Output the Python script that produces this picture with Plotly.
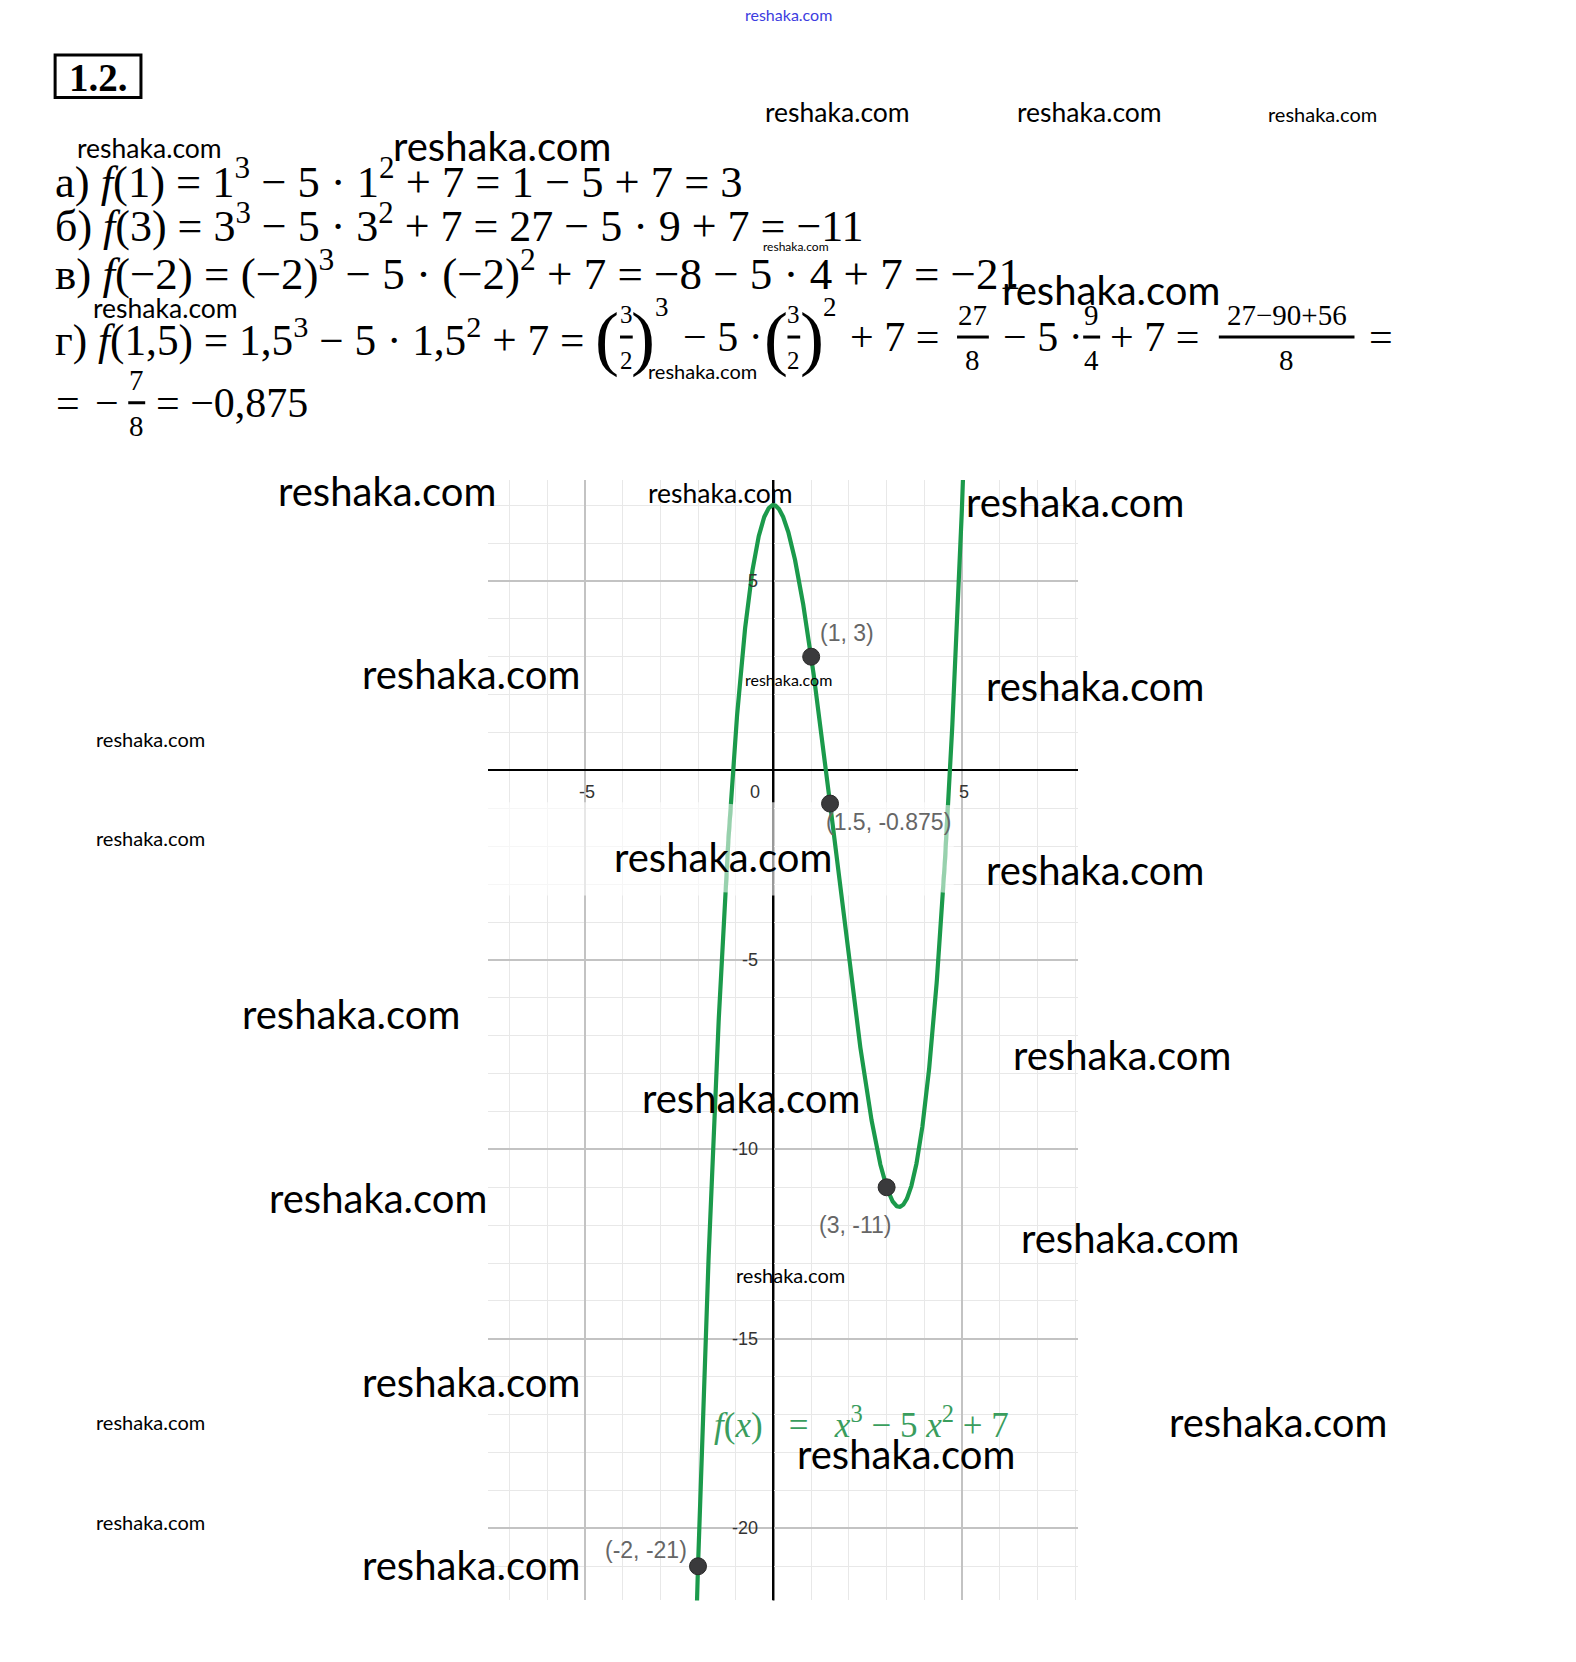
import numpy as np
import plotly.graph_objects as go

# ---------------- data ----------------
coeffs = [1, -5, 0, 7]                     # f(x) = x^3 - 5x^2 + 7 (from the chart label)
pt_x = [1, 1.5, 3, -2]
pt_y = [3, -0.875, -11, -21]
pt_labels = ["(1, 3)", "(1.5, -0.875)", "(3, -11)", "(-2, -21)"]
x_tick_vals = [-5, 0, 5]
x_tick_text = ["-5", "0", "5"]
y_tick_vals = [5, -5, -10, -15, -20]
y_tick_text = ["5", "-5", "-10", "-15", "-20"]

OFF = 8                      # default page margin of the html body
W, H = 1576 - 2 * OFF, 1662 - 2 * OFF
K = 1576 / 1487              # reference-preview -> full size
SERIF = "Liberation Serif"
SANS = "Liberation Sans"
WM = "Lato"

XR = [-7.58, 8.07]
YR = [-21.9, 7.66]
BAND_Y = [-3.3, -0.84]       # faded strip of the original scan
BAND_X = [XR[0], 4.78]

xs = np.linspace(-2.3, 5.3, 1500)
ys = np.polyval(coeffs, xs)

fig = go.Figure()
fig.add_trace(go.Scatter(x=xs, y=ys, mode="lines",
                         line=dict(color="#1b9a4b", width=4.2),
                         hoverinfo="skip", showlegend=False))
# faded parts of the outer branches inside the strip
fade = (ys >= BAND_Y[0]) & (ys <= BAND_Y[1]) & ((xs < 0) | (xs > 4))
for sel in (fade & (xs < 0), fade & (xs > 4)):
    fig.add_trace(go.Scatter(x=xs[sel], y=ys[sel], mode="lines",
                             line=dict(color="rgba(255,255,255,0.55)", width=5),
                             hoverinfo="skip", showlegend=False))
fig.add_trace(go.Scatter(x=pt_x, y=pt_y, mode="markers",
                         marker=dict(size=17, color="#3a3a3c",
                                     line=dict(color="#2a2a2a", width=1)),
                         showlegend=False))

ann = []
shapes = []


def P(x, y):
    return (x * K - OFF) / W, 1 - (y * K - OFF) / H


def txt(t, x, y, size, anchor="left", font=SERIF, color="black", yanchor="middle"):
    px, py = P(x, y)
    ann.append(dict(text=t, x=px, y=py, xref="paper", yref="paper",
                    xanchor=anchor, yanchor=yanchor, showarrow=False,
                    font=dict(family=font, size=size, color=color)))


def hline(x0, x1, y, w=3, color="black"):
    a, b = P(x0, y)
    c, _ = P(x1, y)
    shapes.append(dict(type="line", xref="paper", yref="paper",
                       x0=a, x1=c, y0=b, y1=b, line=dict(color=color, width=w)))


def frac(num, den, xc, y, half, size=29):
    txt(num, xc, y - 21, size, anchor="center")
    txt(den, xc, y + 22, size, anchor="center")
    hline(xc - half, xc + half, y, w=3)


# ---------------- title box ----------------
a0, b0 = P(52, 52)
a1, b1 = P(133, 92)
shapes.append(dict(type="rect", xref="paper", yref="paper", x0=a0, x1=a1,
                   y0=b1, y1=b0, line=dict(color="black", width=3)))
txt("<b>1.2.</b>", 92.5, 73, 39, anchor="center")

# ---------------- solution text ----------------
txt("а) <i>f</i>(1) = 1<sup>3</sup> − 5 · 1<sup>2</sup> + 7 = 1 − 5 + 7 = 3", 50, 168, 44.5)
txt("б) <i>f</i>(3) = 3<sup>3</sup> − 5 · 3<sup>2</sup> + 7 = 27 − 5 · 9 + 7 = −11", 50, 211, 44)
txt("в) <i>f</i>(−2) = (−2)<sup>3</sup> − 5 · (−2)<sup>2</sup> + 7 = −8 − 5 · 4 + 7 = −21", 50, 255, 45)

yl = 318
M = 42
txt("г) <i>f</i>(1,5) = 1,5<sup>3</sup> − 5 · 1,5<sup>2</sup> + 7 =", 50, yl, 43.3)
txt("(", 573, yl + 1, 72, anchor="center")
frac("3", "2", 591, yl, half=6, size=25)
txt(")", 607, yl + 1, 72, anchor="center")
txt("3", 625, 290, 27, anchor="center")
txt("− 5 ·", 643, yl, M)
txt("(", 732, yl + 1, 72, anchor="center")
frac("3", "2", 749, yl, half=6, size=25)
txt(")", 766, yl + 1, 72, anchor="center")
txt("2", 783, 290, 27, anchor="center")
txt("+ 7 =", 800, yl, M)
frac("27", "8", 918, yl, half=15)
txt("− 5 ·", 944, yl, M)
frac("9", "4", 1030, yl, half=8)
txt("+ 7 =", 1045, yl, M)
frac("27−90+56", "8", 1214, yl, half=64)
txt("=", 1290, yl, M)

yl2 = 380
txt("=", 51, yl2, M)
txt("−", 88, yl2, M)
frac("7", "8", 129, yl2, half=8)
txt("= −0,875", 145, yl2, M)

# ---------------- graph annotations ----------------
for v, t in zip(x_tick_vals, x_tick_text):
    ann.append(dict(text=t, x=v if v != 0 else -0.55, y=0, xref="x", yref="y",
                    xanchor="center", yanchor="middle", yshift=-22, xshift=2,
                    showarrow=False, font=dict(family=SANS, size=18, color="#333")))
for v, t in zip(y_tick_vals, y_tick_text):
    ann.append(dict(text=t, x=0, y=v, xref="x", yref="y",
                    xanchor="right", yanchor="middle", xshift=-13,
                    showarrow=False, font=dict(family=SANS, size=18, color="#333")))

lab_off = [(36, 24, "center"), (-6, -18, "left"), (-32, -38, "center"), (-52, 16, "center")]
for x, y, t, (dx, dy, anc) in zip(pt_x, pt_y, pt_labels, lab_off):
    ann.append(dict(text=t, x=x, y=y, xref="x", yref="y", xanchor=anc,
                    yanchor="middle", xshift=dx, yshift=dy, showarrow=False,
                    font=dict(family=SANS, size=23, color="#666")))

NB = "\u00a0"
eq = ("<i>f</i>(<i>x</i>)" + NB * 3 + "=" + NB * 3 + "<i>x</i><sup>3</sup>" + NB
      + "−" + NB + "5" + NB + "<i>x</i><sup>2</sup>" + NB + "+" + NB + "7")
ann.append(dict(text=eq, x=-1.63, y=-17.2, xref="x", yref="y", xanchor="left",
                yanchor="middle", showarrow=False,
                font=dict(family=SERIF, size=35, color="#3a9d5d")))

# white haze strip over the grid (between gridlines and traces)
shapes.append(dict(type="rect", xref="x", yref="y", x0=BAND_X[0], x1=BAND_X[1],
                   y0=BAND_Y[0], y1=BAND_Y[1], line=dict(width=0),
                   fillcolor="white", opacity=0.6, layer="between"))
# keep the vertical axis crisp across the strip
shapes.append(dict(type="line", xref="x", yref="paper", x0=0, x1=0,
                   y0=P(0, 1510)[1], y1=P(0, 453)[1],
                   line=dict(color="black", width=2), layer="between"))

# ---------------- watermarks ----------------
wm = [  # (x_center, y_center, size) in preview pixels
    (141, 140, 26.5), (474, 138, 40), (790, 106, 26.5), (1028, 106, 26.5),
    (1248, 108, 20), (751, 233, 12), (1048, 274, 40), (156, 291, 26.5),
    (663, 350, 20), (365, 463, 40), (680, 465, 26.5), (1014, 474, 40),
    (444, 636, 40), (744, 641, 16), (1033, 647, 40), (142, 697, 20),
    (142, 791, 20), (682, 809, 40), (1033, 821, 40), (331, 957, 40),
    (1059, 995, 40), (709, 1036, 40), (357, 1130, 40), (1066, 1168, 40),
    (746, 1203, 20), (444, 1304, 40), (142, 1342, 20), (1206, 1342, 40),
    (855, 1372, 40), (142, 1436, 20), (444, 1477, 40),
]
for x, y, s in wm:
    txt("reshaka.com", x, y, s, anchor="center", font=WM)
txt("reshaka.com", 744, 14, 16, anchor="center", font=WM, color="#3c3ce0")

# ---------------- layout ----------------
x0d, y1d = P(460, 453)
x1d, y0d = P(1017, 1510)

fig.update_layout(
    width=W, height=H, margin=dict(l=0, r=0, t=0, b=0),
    paper_bgcolor="white", plot_bgcolor="white",
    showlegend=False, annotations=ann, shapes=shapes,
    xaxis=dict(domain=[x0d, x1d], range=XR, dtick=5, tick0=0,
               showgrid=True, gridcolor="#c3c3c3", gridwidth=1.6,
               minor=dict(dtick=1, showgrid=True, gridcolor="#e8e8e8", gridwidth=1.3),
               zeroline=True, zerolinecolor="black", zerolinewidth=2,
               showticklabels=False, ticks="", showline=False, fixedrange=True),
    yaxis=dict(domain=[y0d, y1d], range=YR, dtick=5, tick0=0,
               showgrid=True, gridcolor="#c3c3c3", gridwidth=1.6,
               minor=dict(dtick=1, showgrid=True, gridcolor="#e8e8e8", gridwidth=1.3),
               zeroline=True, zerolinecolor="black", zerolinewidth=2,
               showticklabels=False, ticks="", showline=False, fixedrange=True),
)

fig.write_html("out.html")
